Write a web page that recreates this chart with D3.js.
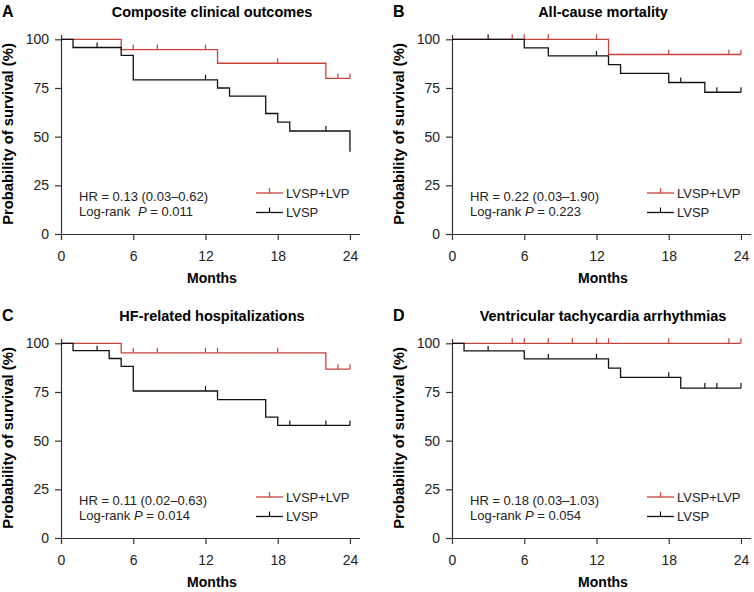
<!DOCTYPE html>
<html>
<head>
<meta charset="utf-8">
<script src="https://cdn.jsdelivr.net/npm/d3@7"></script>
<style>
  body { margin: 0; background: #fff; }
  text { font-family: "Liberation Sans", Arial, sans-serif; }
</style>
</head>
<body>
<div id="chart"></div>
<script>
//axis ticks
var monthTicks = [0, 6, 12, 18, 24];
var survTicks = [0, 25, 50, 75, 100];

//panel texts
var panelLetters = ["A", "B", "C", "D"];
var panelTitles = ["Composite clinical outcomes", "All-cause mortality",
    "HF-related hospitalizations", "Ventricular tachycardia arrhythmias"];
var hrTexts = ["HR = 0.13 (0.03\u20130.62)", "HR = 0.22 (0.03\u20131.90)",
    "HR = 0.11 (0.02\u20130.63)", "HR = 0.18 (0.03\u20131.03)"];
var pValues = ["0.011", "0.223", "0.014", "0.054"];
var groupNames = ["LVSP+LVP", "LVSP"];

//survival steps [month, % after step] for LVSP+LVP (red) and LVSP (black)
var redStepsA = [[0, 100], [5, 94.7], [13, 87.7], [22, 79.9], [24, 79.9]];
var blackStepsA = [[0, 100], [1, 95.8], [5, 91.7], [6, 79.2], [13, 75], [14, 70.8],
    [17, 61.9], [18, 57.5], [19, 52.9], [24, 42.3]];
var redStepsB = [[0, 100], [13, 92.2], [24, 92.2]];
var blackStepsB = [[0, 100], [6, 95.6], [8, 91.5], [13, 87], [14, 82.5], [18, 77.8],
    [21, 72.8], [24, 72.8]];
var redStepsC = [[0, 100], [5, 95.1], [22, 86.7], [24, 86.7]];
var blackStepsC = [[0, 100], [1, 96.2], [4, 92.2], [5, 88.1], [6, 75.5], [13, 71.1],
    [17, 62.1], [18, 57.8], [24, 57.8]];
var redStepsD = [[0, 100], [24, 100]];
var blackStepsD = [[0, 100], [1, 96.1], [6, 92], [13, 87.2], [14, 82.5], [19, 77], [24, 77]];

//censored months
var redCensorA = [6, 8, 12, 18, 23, 24];
var blackCensorA = [3, 12, 22];
var redCensorB = [5, 6, 8, 12, 18, 23, 24];
var blackCensorB = [3, 12, 19, 22, 24];
var redCensorC = [6, 8, 12, 13, 18, 23, 24];
var blackCensorC = [3, 12, 19, 22, 24];
var redCensorD = [5, 6, 8, 10, 12, 13, 18, 23, 24];
var blackCensorD = [3, 8, 12, 18, 21, 22, 24];

var redSteps = [redStepsA, redStepsB, redStepsC, redStepsD];
var blackSteps = [blackStepsA, blackStepsB, blackStepsC, blackStepsD];
var redCensor = [redCensorA, redCensorB, redCensorC, redCensorD];
var blackCensor = [blackCensorA, blackCensorB, blackCensorC, blackCensorD];

var redColor = "#c8413a";
var blackColor = "#111";

//svg
var svgWidth = 754;
var svgHeight = 592;
var svg = d3.select("#chart").append("svg")
    .attr("width", svgWidth)
    .attr("height", svgHeight);

//panel offsets
var offsets = [[0, 0], [391, 0], [0, 304], [391, 304]];

//scales (shared by each panel, in panel coordinates)
var xScale = d3.scaleLinear().domain([0, 24.8]).range([61, 61 + 24.8 * 12.04]);
var yScale = d3.scaleLinear().domain([0, 102.5]).range([234, 234 - 102.5 * 1.947]);

//value of step function at month t
function survAt(steps, t) {
    var v = steps[0][1];
    steps.forEach(function(s) { if (s[0] <= t) v = s[1]; });
    return v;
}

var line = d3.line()
    .x(d => xScale(d[0]))
    .y(d => yScale(d[1]))
    .curve(d3.curveStepAfter);

function drawCurve(g, steps, censor, color) {
    g.append("path")
        .datum(steps)
        .attr("fill", "none")
        .attr("stroke", color)
        .attr("stroke-width", 1.3)
        .attr("d", line);

    g.selectAll(null)
        .data(censor)
        .enter()
        .append("line")
        .attr("x1", d => xScale(d))
        .attr("x2", d => xScale(d))
        .attr("y1", d => yScale(survAt(steps, d)))
        .attr("y2", d => yScale(survAt(steps, d)) - 5)
        .attr("stroke", color)
        .attr("stroke-width", 1.2);
}

offsets.forEach(function(off, i) {
    var g = svg.append("g").attr("transform", `translate(${off[0]}, ${off[1]})`);

    //letter and title
    g.append("text")
        .attr("x", 2)
        .attr("y", 16.5)
        .attr("font-size", "16px")
        .attr("font-weight", "bold")
        .text(panelLetters[i]);

    g.append("text")
        .attr("x", 212)
        .attr("y", 17)
        .attr("text-anchor", "middle")
        .attr("font-size", "14.5px")
        .attr("font-weight", "bold")
        .text(panelTitles[i]);

    //axes
    var bottomAxis = d3.axisBottom(xScale)
        .tickValues(monthTicks)
        .tickSize(6)
        .tickSizeOuter(0)
        .tickPadding(11);
    var leftAxis = d3.axisLeft(yScale)
        .tickValues(survTicks)
        .tickSize(6)
        .tickSizeOuter(0)
        .tickPadding(6);

    var xAxis = g.append("g")
        .attr("transform", `translate(0, ${yScale(0)})`)
        .call(bottomAxis);
    var yAxis = g.append("g")
        .attr("transform", `translate(${xScale(0)}, 0)`)
        .call(leftAxis);

    [xAxis, yAxis].forEach(function(ax) {
        ax.selectAll("path, line").attr("stroke", "#333").attr("stroke-width", 1.2);
        ax.selectAll("text")
            .attr("font-size", "14px")
            .attr("font-family", "Liberation Sans, Arial, sans-serif")
            .attr("fill", "#222");
    });

    //axis labels
    g.append("text")
        .attr("x", 212)
        .attr("y", 283)
        .attr("text-anchor", "middle")
        .attr("font-size", "14px")
        .attr("font-weight", "bold")
        .text("Months");

    g.append("text")
        .attr("transform", "translate(13, 134) rotate(-90)")
        .attr("text-anchor", "middle")
        .attr("font-size", "14.8px")
        .attr("font-weight", "bold")
        .text("Probability of survival (%)");

    //curves
    drawCurve(g, redSteps[i], redCensor[i], redColor);
    drawCurve(g, blackSteps[i], blackCensor[i], blackColor);

    //stats
    g.append("text")
        .attr("x", 79)
        .attr("y", 200.5)
        .attr("font-size", "13px")
        .attr("fill", "#222")
        .text(hrTexts[i]);

    var pText = g.append("text")
        .attr("x", 79)
        .attr("y", 216)
        .attr("font-size", "13px")
        .attr("fill", "#222");
    pText.append("tspan").text("Log-rank ");
    pText.append("tspan")
        .attr("dx", i == 0 ? 4 : 0)
        .attr("font-style", "italic")
        .text("P");
    pText.append("tspan").text(" = " + pValues[i]);

    //legend
    var legendColors = [redColor, blackColor];
    var legendY = [193, 212.5];
    groupNames.forEach(function(name, j) {
        g.append("line")
            .attr("x1", 256).attr("x2", 283)
            .attr("y1", legendY[j]).attr("y2", legendY[j])
            .attr("stroke", legendColors[j])
            .attr("stroke-width", 1.3);
        g.append("line")
            .attr("x1", 269.5).attr("x2", 269.5)
            .attr("y1", legendY[j]).attr("y2", legendY[j] - 5)
            .attr("stroke", legendColors[j])
            .attr("stroke-width", 1.2);
        g.append("text")
            .attr("x", 286)
            .attr("y", legendY[j] + 4.5)
            .attr("font-size", "13px")
            .attr("fill", "#222")
            .text(name);
    });
});
</script>
</body>
</html>
